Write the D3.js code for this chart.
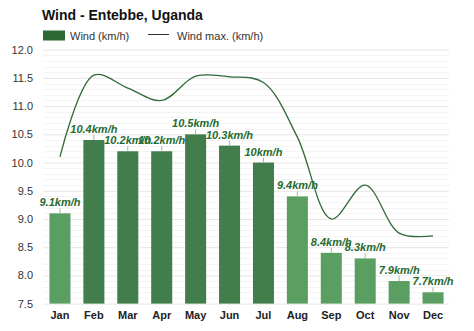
<!DOCTYPE html>
<html>
<head>
<meta charset="utf-8">
<script src="https://cdn.jsdelivr.net/npm/d3@7/dist/d3.min.js"></script>
<style>
  html, body { margin: 0; padding: 0; background: #ffffff; }
  svg { display: block; font-family: "Liberation Sans", Arial, Helvetica, sans-serif; }
</style>
</head>
<body>
<svg id="chart" width="474" height="331"></svg>
<script>
// Monthly wind data for Entebbe
const months = ["Jan", "Feb", "Mar", "Apr", "May", "Jun", "Jul", "Aug", "Sep", "Oct", "Nov", "Dec"];
const windAvg = [9.1, 10.4, 10.2, 10.2, 10.5, 10.3, 10.0, 9.4, 8.4, 8.3, 7.9, 7.7];
const windMax = [10.1, 11.55, 11.32, 11.1, 11.53, 11.52, 11.42, 10.45, 9.0, 9.6, 8.75, 8.7];
const yTicks = [7.5, 8.0, 8.5, 9.0, 9.5, 10.0, 10.5, 11.0, 11.5, 12.0];
const windySeason = ["Feb", "Mar", "Apr", "May", "Jun", "Jul"];

const svg = d3.select("#chart");

const x = d3.scaleBand()
  .domain(months)
  .range([43, 450])
  .paddingInner(0.38)
  .paddingOuter(0.19);

const y = d3.scaleLinear()
  .domain([7.5, 12])
  .range([303.6, 49.7]);

// minor grid every 0.1
const minor = d3.range(75, 121).map(d => d / 10).filter(v => Math.abs(v * 2 - Math.round(v * 2)) > 1e-6);
svg.append("g")
  .selectAll("line")
  .data(minor)
  .join("line")
  .attr("x1", 43).attr("x2", 449)
  .attr("y1", d => Math.round(y(d)) + 0.5)
  .attr("y2", d => Math.round(y(d)) + 0.5)
  .attr("stroke", "#f4f4f4")
  .attr("stroke-width", 1);

// major grid + y tick labels
const yAxis = d3.axisLeft(y)
  .tickValues(yTicks)
  .tickFormat(d3.format(".1f"))
  .tickSize(-406)
  .tickPadding(10);

const gy = svg.append("g")
  .attr("transform", "translate(43,0)")
  .call(yAxis);
gy.select(".domain").remove();
gy.selectAll(".tick line").attr("stroke", "#e6e6e6");
gy.selectAll(".tick text")
  .attr("fill", "#333")
  .attr("font-size", 11);

// bars
svg.append("g")
  .selectAll("rect")
  .data(months)
  .join("rect")
  .attr("x", (m) => x(m))
  .attr("width", x.bandwidth())
  .attr("y", (m, i) => y(windAvg[i]))
  .attr("height", (m, i) => y(7.5) - y(windAvg[i]))
  .attr("fill", m => windySeason.includes(m) ? "#427e4b" : "#5a9f61");

// wind max line
const line = d3.line()
  .x((d, i) => x(months[i]) + x.bandwidth() / 2)
  .y(d => y(d))
  .curve(d3.curveCatmullRom.alpha(0.5));

svg.append("path")
  .datum(windMax)
  .attr("d", line)
  .attr("fill", "none")
  .attr("stroke", "#2f6a38")
  .attr("stroke-width", 1.3);

// value labels with short connectors
const labels = svg.append("g");
months.forEach((m, i) => {
  const cx = x(m) + x.bandwidth() / 2;
  const top = y(windAvg[i]);
  labels.append("line")
    .attr("x1", cx).attr("x2", cx)
    .attr("y1", top).attr("y2", top - 5)
    .attr("stroke", "#9bbf9e")
    .attr("stroke-width", 1);
  labels.append("text")
    .attr("x", cx)
    .attr("y", top - 7)
    .attr("text-anchor", "middle")
    .attr("font-size", 11)
    .attr("font-weight", "bold")
    .attr("font-style", "italic")
    .attr("fill", "#276b30")
    .text(`${+windAvg[i]}km/h`);
});

// x axis labels
const xAxis = d3.axisBottom(x).tickSize(0).tickPadding(0);
const gx = svg.append("g")
  .attr("transform", "translate(0,309)")
  .call(xAxis);
gx.select(".domain").remove();
gx.selectAll(".tick text")
  .attr("fill", "#222")
  .attr("font-size", 11)
  .attr("font-weight", "bold")
  .attr("dy", "0.9em");

// title
svg.append("text")
  .attr("x", 42)
  .attr("y", 19.5)
  .attr("font-size", 14)
  .attr("font-weight", "bold")
  .attr("fill", "#111")
  .text("Wind - Entebbe, Uganda");

// legend
svg.append("rect")
  .attr("x", 43).attr("y", 30.5)
  .attr("width", 22).attr("height", 10)
  .attr("fill", "#2b6a34");
svg.append("text")
  .attr("x", 70).attr("y", 39.5)
  .attr("font-size", 11)
  .attr("fill", "#333")
  .text("Wind (km/h)");
svg.append("line")
  .attr("x1", 148).attr("x2", 169)
  .attr("y1", 34.5).attr("y2", 34.5)
  .attr("stroke", "#333")
  .attr("stroke-width", 1);
svg.append("text")
  .attr("x", 177).attr("y", 39.5)
  .attr("font-size", 11)
  .attr("fill", "#333")
  .text("Wind max. (km/h)");
</script>
</body>
</html>
